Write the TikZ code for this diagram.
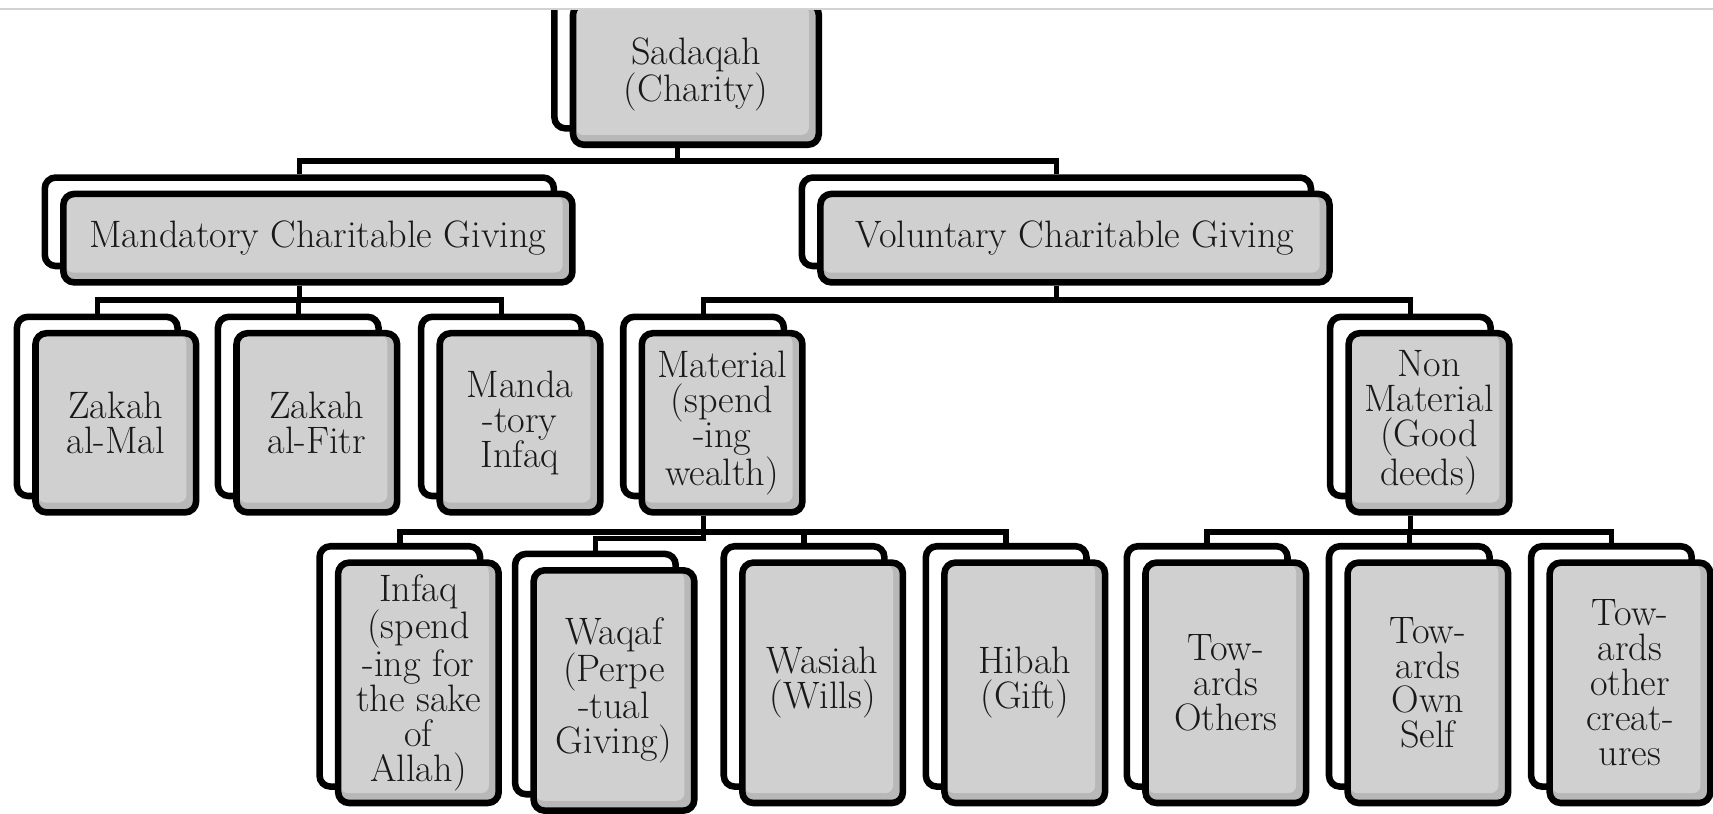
\documentclass[tikz,border=0pt]{standalone}
\usepackage{fontspec}
\usetikzlibrary{calc,positioning}
\definecolor{cardgray}{HTML}{D0D0D0}
\definecolor{cardshade}{HTML}{B8B8B8}
\tikzset{
    backcard/.style={
        rectangle,
        rounded corners=10pt,
        draw=black, line width=6pt,
        fill=white
    },
    frontcard/.style={
        rectangle,
        rounded corners=10pt,
        draw=black, line width=6pt,
        fill=cardshade,
        path picture={\fill[cardgray,rounded corners=7pt]
            ($(path picture bounding box.north west)+(2pt,-2pt)$) rectangle
            ($(path picture bounding box.south east)+(-9pt,9pt)$);},
        text=black!90,
        align=center,
        inner sep=1pt,
        font=\fontsize{35}{32}\selectfont
    },
    rootcard/.style={minimum width=225pt, minimum height=129pt},
    widecard/.style={minimum width=466pt, minimum height=81pt},
    midcard/.style={minimum width=147pt, minimum height=164pt},
    tallcard/.style={minimum width=147pt, minimum height=220pt},
    line/.style={draw, line width=5pt}
}
\newcommand{\card}[5]{%
    \node[backcard,#4] (#1-b) at (#2-17,#3-15) {};
    \node[frontcard,#4] (#1) at (#2,#3) {#5};}

\begin{document}
\begin{tikzpicture}[x=1pt, y=-1pt]
\useasboundingbox (0,0) rectangle (1568,745);
\begin{scope}
\clip (0,9) rectangle (1568,745);
\card{root}{637}{68}{rootcard}{Sadaqah\\(Charity)}
\card{mand}{291}{218}{widecard}{Mandatory Charitable Giving}
\card{vol}{984}{218}{widecard}{Voluntary Charitable Giving}
\card{zmal}{106}{387}{midcard}{Zakah\\al-Mal}
\card{zfitr}{290}{387}{midcard}{Zakah\\al-Fitr}
\card{minfaq}{476}{387}{midcard}{Manda\\-tory\\Infaq}
\card{mat}{661}{387}{midcard}{Material\\(spend\\-ing\\wealth)}
\card{nonmat}{1308}{387}{midcard}{Non\\Material\\(Good\\deeds)}
\card{infaq}{383}{625}{tallcard}{Infaq\\(spend\\-ing for\\the sake\\of\\Allah)}
\card{waqaf}{562}{632}{tallcard}{Waqaf\\(Perpe\\-tual\\Giving)}
\card{wasiah}{753}{625}{tallcard}{Wasiah\\(Wills)}
\card{hibah}{938}{625}{tallcard}{Hibah\\(Gift)}
\card{others}{1122}{625}{tallcard}{Tow-\\ards\\Others}
\card{ownself}{1307}{625}{tallcard}{Tow-\\ards\\Own\\Self}
\card{creat}{1492}{625}{tallcard}{Tow-\\ards\\other\\creat-\\ures}
\foreach \child in {mand,vol}
    \draw[line] (root-b.center |- root.south) -- ++(0,12) -| (\child-b.north);
\foreach \child in {zmal,zfitr,minfaq}
    \draw[line] (mand-b.center |- mand.south) -- ++(0,13) -| (\child-b.north);
\foreach \child in {mat,nonmat}
    \draw[line] (vol-b.center |- vol.south) -- ++(0,13) -| (\child-b.north);
\foreach \child in {infaq,wasiah,hibah}
    \draw[line] (mat-b.center |- mat.south) -- ++(0,15) -| (\child-b.north);
\draw[line] (mat-b.center |- mat.south) -- ++(0,21) -| (waqaf-b.north);
\foreach \child in {others,ownself,creat}
    \draw[line] (nonmat-b.center |- nonmat.south) -- ++(0,15) -| (\child-b.north);
\end{scope}
\draw[gray!35, line width=1.5pt] (0,8) -- (1568,8);
\end{tikzpicture}
\end{document}
